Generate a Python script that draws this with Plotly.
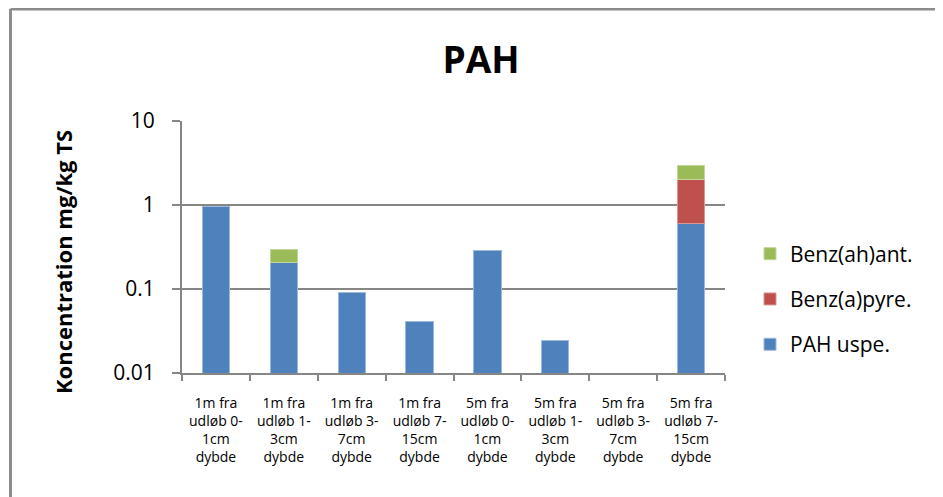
import plotly.graph_objects as go

categories = [
    "1m fra<br>udløb 0-<br>1cm<br>dybde",
    "1m fra<br>udløb 1-<br>3cm<br>dybde",
    "1m fra<br>udløb 3-<br>7cm<br>dybde",
    "1m fra<br>udløb 7-<br>15cm<br>dybde",
    "5m fra<br>udløb 0-<br>1cm<br>dybde",
    "5m fra<br>udløb 1-<br>3cm<br>dybde",
    "5m fra<br>udløb 3-<br>7cm<br>dybde",
    "5m fra<br>udløb 7-<br>15cm<br>dybde",
]
pah_uspe = [0.97, 0.204, 0.092, 0.0405, 0.29, 0.0247, None, 0.595]
benz_a_pyre = [None, None, None, None, None, None, None, 1.44]
benz_ah_ant = [None, 0.088, None, None, None, None, None, 0.95]

y_tickvals = [0.01, 0.1, 1, 10]
y_ticktext = ["0.01", "0.1", "1", "10"]

FONT = "Open Sans, Lato, sans-serif"
W, H = 935, 489
L, R, T, B = 174, 717, 113, 365  # plot area in figure pixels
PW, PH = R - L, B - T


def px_x(x):
    return (x - L) / PW


def px_y(y):
    return (B - y) / PH


fig = go.Figure()
fig.add_trace(go.Bar(x=categories, y=pah_uspe, name="PAH uspe.", legendgroup="c", legendrank=3,
                     marker=dict(color="#4F81BD", line=dict(color="#9DB9DC", width=1))))
fig.add_trace(go.Bar(x=categories, y=benz_a_pyre, name="Benz(a)pyre.", legendgroup="b", legendrank=2,
                     marker=dict(color="#C0504D", line=dict(color="#D99694", width=1))))
fig.add_trace(go.Bar(x=categories, y=benz_ah_ant, name="Benz(ah)ant.", legendgroup="a", legendrank=1,
                     marker=dict(color="#9BBB59", line=dict(color="#C3D69B", width=1))))

fig.update_layout(
    width=W, height=H,
    barmode="stack", bargap=0.6,
    paper_bgcolor="white", plot_bgcolor="white",
    margin=dict(l=L, r=W - R, t=T, b=H - B),
    font=dict(family=FONT, color="black"),
    title=dict(text="<b>PAH</b>", x=473 / W, xanchor="center", xref="container",
               y=1 - 52 / H, yanchor="middle", yref="container",
               font=dict(size=37, family=FONT, color="black")),
    legend=dict(traceorder="grouped", tracegroupgap=15,
                xref="container", yref="container",
                x=742 / W, xanchor="left", y=1 - 291 / H, yanchor="middle",
                font=dict(size=21, family=FONT, color="black"),
                bgcolor="rgba(0,0,0,0)"),
    showlegend=True,
    annotations=[dict(text="<b>Koncentration mg/kg TS</b>", textangle=-90,
                      xref="paper", yref="paper",
                      x=px_x(55), y=px_y(254), xanchor="center", yanchor="middle",
                      showarrow=False, font=dict(size=22, family=FONT, color="black"))],
)
fig.update_xaxes(
    showline=True, linecolor="#868686", linewidth=2,
    ticks="outside", tickson="boundaries", ticklen=6, tickcolor="#868686", tickwidth=2,
    tickfont=dict(size=14, family=FONT, color="black"),
    showgrid=False, tickangle=0, ticklabelstandoff=16,
)
fig.update_yaxes(
    type="log", range=[-2, 1],
    tickvals=y_tickvals, ticktext=y_ticktext,
    showline=True, linecolor="#868686", linewidth=2,
    ticks="outside", ticklen=8, tickcolor="#868686", tickwidth=2,
    tickfont=dict(size=21, family=FONT, color="black"),
    showgrid=True, gridcolor="#868686", gridwidth=2,
    zeroline=False,
    ticklabelstandoff=13,
)
# outer chart border (top and left edges visible)
top_y = px_y(1)
left_x = px_x(2.5)
fig.add_shape(type="line", xref="paper", yref="paper",
              x0=left_x, x1=1.6, y0=top_y, y1=top_y,
              line=dict(color="#8C8C8C", width=3))
fig.add_shape(type="line", xref="paper", yref="paper",
              x0=left_x, x1=left_x, y0=top_y, y1=-0.6,
              line=dict(color="#8C8C8C", width=3))

fig.write_html("out.html")
